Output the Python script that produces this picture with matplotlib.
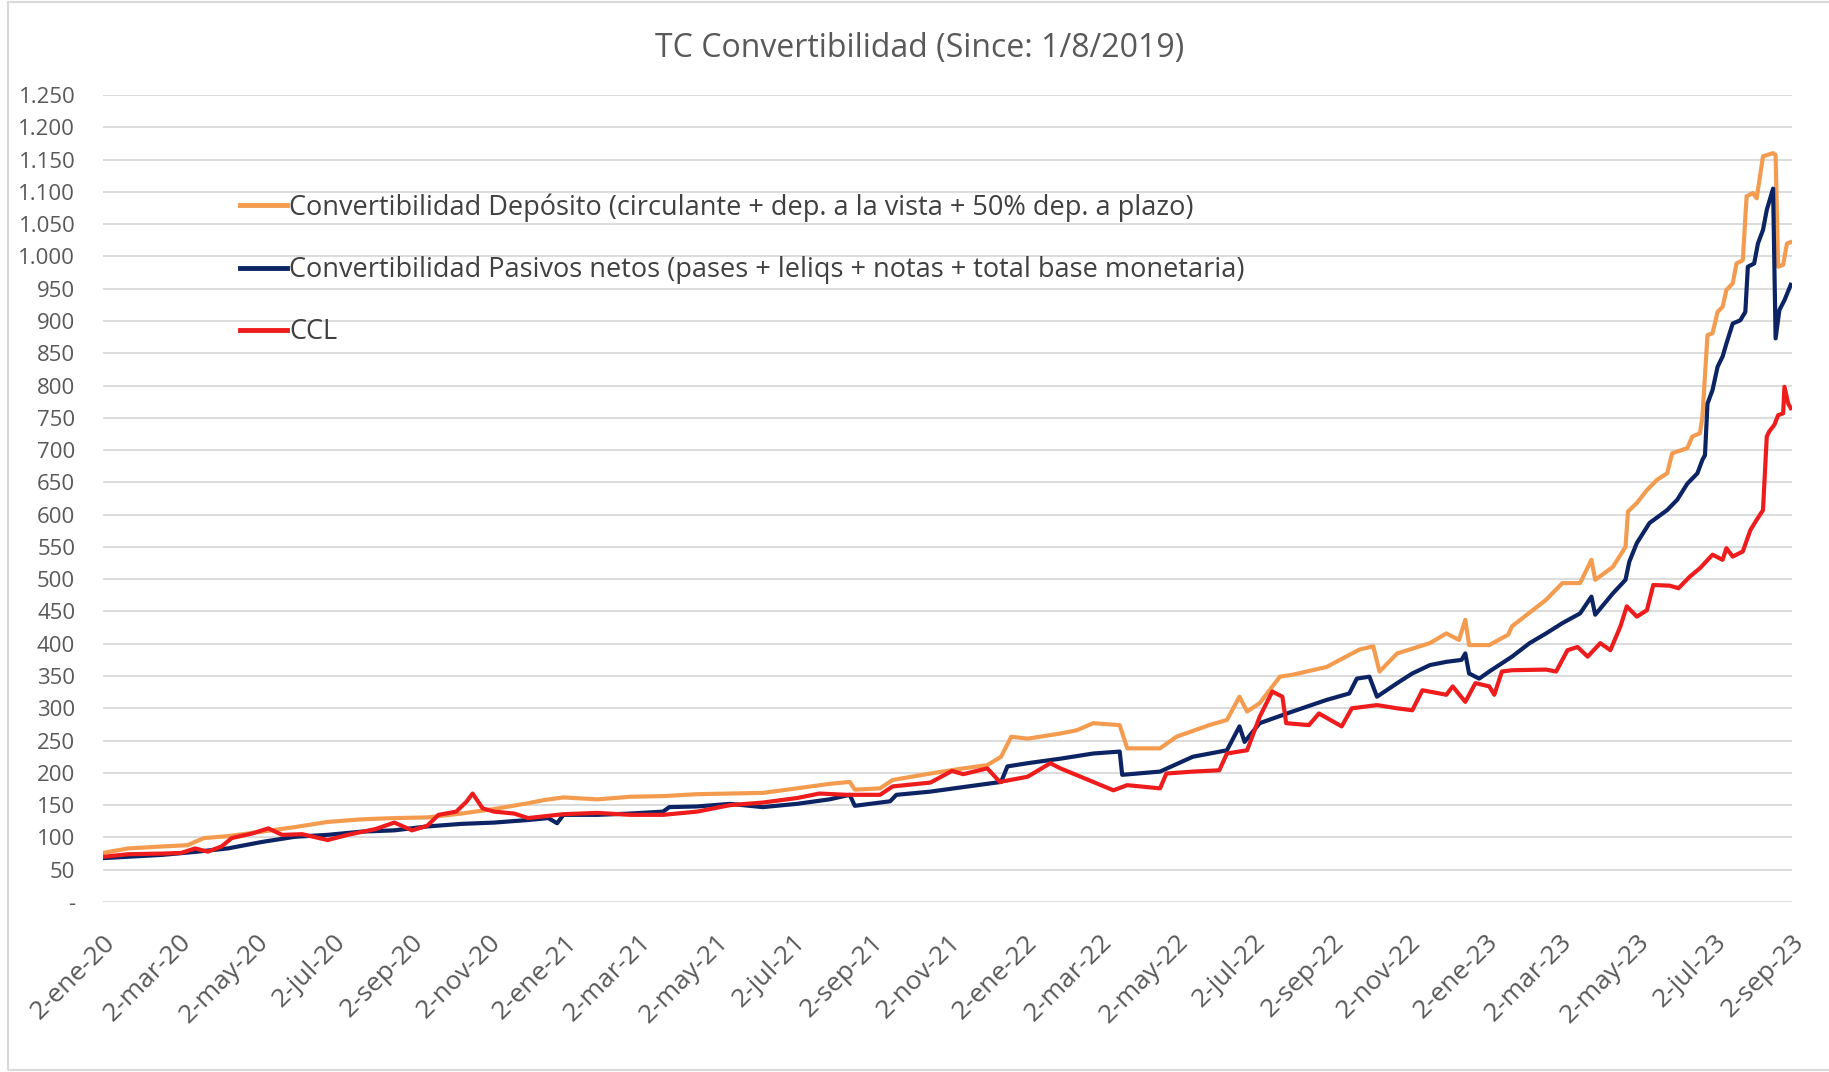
import matplotlib.pyplot as plt
import pandas as pd
from matplotlib.patches import Rectangle

plt.rcParams['font.family'] = ['Open Sans', 'DejaVu Sans']

# --- Data ---
dep_dates = ['2020-01-02', '2020-01-22', '2020-02-18', '2020-03-09', '2020-03-22', '2020-04-10',
             '2020-05-07', '2020-06-02', '2020-06-28', '2020-07-25', '2020-08-20', '2020-09-15',
             '2020-10-12', '2020-11-07', '2020-12-04', '2020-12-17', '2021-01-01', '2021-01-28',
             '2021-02-23', '2021-03-21', '2021-04-17', '2021-05-13', '2021-06-08', '2021-07-05',
             '2021-07-31', '2021-08-16', '2021-08-20', '2021-09-09', '2021-09-19', '2021-10-19',
             '2021-11-14', '2021-12-03', '2021-12-14', '2021-12-22', '2022-01-04', '2022-01-30',
             '2022-02-12', '2022-02-25', '2022-03-18', '2022-03-24', '2022-04-19', '2022-05-02',
             '2022-05-28', '2022-06-11', '2022-06-21', '2022-06-27', '2022-07-07', '2022-07-23',
             '2022-08-02', '2022-08-29', '2022-09-24', '2022-10-05', '2022-10-10', '2022-10-24',
             '2022-11-19', '2022-12-02', '2022-12-12', '2022-12-17', '2022-12-20', '2023-01-05',
             '2023-01-20', '2023-01-23', '2023-02-19', '2023-03-04', '2023-03-18', '2023-03-27',
             '2023-03-30', '2023-04-13', '2023-04-23', '2023-04-25', '2023-05-02', '2023-05-10',
             '2023-05-18', '2023-05-26', '2023-05-30', '2023-06-11', '2023-06-15', '2023-06-21',
             '2023-06-23', '2023-06-27', '2023-07-01', '2023-07-05', '2023-07-09', '2023-07-12',
             '2023-07-17', '2023-07-20', '2023-07-25', '2023-07-28', '2023-08-02', '2023-08-05',
             '2023-08-10', '2023-08-18', '2023-08-20', '2023-08-22', '2023-08-26', '2023-08-29',
             '2023-09-01']
dep_vals = [76, 83, 86, 88, 99, 102, 109, 116, 124, 128, 130, 131,
            137, 144, 153, 158, 162, 159, 163, 164, 167, 168, 169, 176,
            183, 186, 174, 176, 189, 199, 207, 212, 225, 256, 253, 261,
            266, 277, 274, 238, 238, 256, 274, 282, 318, 295, 308, 349,
            352, 364, 391, 396, 357, 385, 401, 416, 406, 437, 398, 398,
            414, 427, 468, 494, 494, 530, 499, 519, 550, 605, 618, 638,
            654, 664, 695, 703, 721, 726, 752, 878, 881, 914, 922, 948,
            958, 989, 994, 1093, 1098, 1090, 1155, 1160, 1157, 984, 987, 1020,
            1022]

pas_dates = ['2020-01-02', '2020-02-18', '2020-03-17', '2020-04-10', '2020-05-07', '2020-06-02',
             '2020-06-28', '2020-07-25', '2020-08-20', '2020-09-15', '2020-10-12', '2020-11-07',
             '2020-12-04', '2020-12-20', '2020-12-27', '2021-01-01', '2021-01-28', '2021-02-23',
             '2021-03-21', '2021-03-26', '2021-04-17', '2021-05-13', '2021-06-08', '2021-07-05',
             '2021-07-31', '2021-08-16', '2021-08-20', '2021-09-17', '2021-09-22', '2021-10-19',
             '2021-11-14', '2021-12-14', '2021-12-19', '2022-01-04', '2022-01-30', '2022-02-25',
             '2022-03-18', '2022-03-20', '2022-04-19', '2022-05-15', '2022-06-11', '2022-06-21',
             '2022-06-25', '2022-07-07', '2022-08-02', '2022-08-29', '2022-09-16', '2022-09-22',
             '2022-10-02', '2022-10-08', '2022-10-24', '2022-11-05', '2022-11-19', '2022-12-02',
             '2022-12-14', '2022-12-17', '2022-12-20', '2022-12-28', '2023-01-05', '2023-01-23',
             '2023-02-06', '2023-02-19', '2023-03-04', '2023-03-18', '2023-03-27', '2023-03-30',
             '2023-04-13', '2023-04-23', '2023-04-26', '2023-05-02', '2023-05-12', '2023-05-26',
             '2023-06-03', '2023-06-11', '2023-06-19', '2023-06-23', '2023-06-25', '2023-06-27',
             '2023-07-01', '2023-07-05', '2023-07-09', '2023-07-12', '2023-07-17', '2023-07-23',
             '2023-07-27', '2023-07-29', '2023-08-03', '2023-08-06', '2023-08-10', '2023-08-13',
             '2023-08-18', '2023-08-20', '2023-08-23', '2023-08-27', '2023-09-01']
pas_vals = [68, 73, 78, 83, 93, 101, 104, 109, 111, 117, 121, 123,
            127, 130, 122, 135, 135, 137, 140, 147, 148, 152, 147, 152,
            159, 166, 149, 156, 166, 171, 178, 186, 210, 215, 222, 230,
            233, 197, 202, 225, 235, 272, 248, 277, 295, 313, 323, 346,
            349, 318, 339, 354, 367, 372, 375, 385, 354, 346, 357, 380,
            401, 416, 432, 447, 473, 445, 478, 499, 527, 556, 587, 607,
            623, 648, 664, 685, 692, 772, 793, 829, 845, 865, 896, 901,
            914, 984, 989, 1020, 1041, 1072, 1105, 873, 917, 932, 956]

ccl_dates = ['2020-01-02', '2020-01-22', '2020-02-18', '2020-03-04', '2020-03-15', '2020-03-25',
             '2020-04-05', '2020-04-13', '2020-04-29', '2020-05-12', '2020-05-23', '2020-06-08',
             '2020-06-28', '2020-07-14', '2020-08-05', '2020-08-20', '2020-09-03', '2020-09-15',
             '2020-09-24', '2020-10-08', '2020-10-16', '2020-10-21', '2020-10-29', '2020-11-07',
             '2020-11-23', '2020-12-04', '2021-01-01', '2021-01-28', '2021-02-23', '2021-03-21',
             '2021-04-17', '2021-05-13', '2021-06-08', '2021-07-05', '2021-07-23', '2021-08-14',
             '2021-09-09', '2021-09-19', '2021-10-19', '2021-11-05', '2021-11-14', '2021-12-03',
             '2021-12-13', '2022-01-04', '2022-01-22', '2022-01-30', '2022-02-25', '2022-03-13',
             '2022-03-24', '2022-04-19', '2022-04-24', '2022-05-15', '2022-06-05', '2022-06-11',
             '2022-06-27', '2022-07-07', '2022-07-17', '2022-07-25', '2022-07-28', '2022-08-15',
             '2022-08-23', '2022-09-10', '2022-09-18', '2022-10-08', '2022-10-24', '2022-11-05',
             '2022-11-13', '2022-12-02', '2022-12-07', '2022-12-17', '2022-12-25', '2023-01-05',
             '2023-01-09', '2023-01-15', '2023-01-23', '2023-02-19', '2023-02-27', '2023-03-08',
             '2023-03-16', '2023-03-24', '2023-04-03', '2023-04-11', '2023-04-19', '2023-04-24',
             '2023-05-02', '2023-05-10', '2023-05-15', '2023-05-28', '2023-06-04', '2023-06-13',
             '2023-06-21', '2023-07-01', '2023-07-09', '2023-07-12', '2023-07-17', '2023-07-25',
             '2023-07-31', '2023-08-05', '2023-08-10', '2023-08-13', '2023-08-15', '2023-08-19',
             '2023-08-22', '2023-08-26', '2023-08-27', '2023-08-30', '2023-09-01']
ccl_vals = [70, 74, 75, 76, 83, 78, 86, 99, 106, 114, 104, 105,
            96, 104, 113, 123, 111, 118, 135, 140, 155, 168, 145, 140,
            137, 130, 136, 138, 135, 135, 140, 150, 154, 161, 168, 166,
            166, 179, 185, 203, 198, 207, 186, 194, 215, 207, 186, 173,
            181, 176, 199, 202, 204, 230, 235, 287, 326, 318, 277, 274,
            292, 272, 300, 305, 300, 297, 328, 321, 334, 310, 339, 334,
            321, 357, 359, 360, 357, 390, 395, 380, 401, 390, 427, 458,
            442, 452, 491, 490, 486, 504, 517, 538, 530, 548, 535, 543,
            576, 592, 607, 721, 729, 739, 754, 757, 798, 772, 765]

series_labels = ['Convertibilidad Depósito (circulante + dep. a la vista + 50% dep. a plazo)',
                 'Convertibilidad Pasivos netos (pases + leliqs + notas + total base monetaria)',
                 'CCL']
series_colors = ['#F39C50', '#0C2463', '#EE1C1C']

x_tick_dates = ['2020-01-02', '2020-03-02', '2020-05-02', '2020-07-02', '2020-09-02', '2020-11-02',
                '2021-01-02', '2021-03-02', '2021-05-02', '2021-07-02', '2021-09-02', '2021-11-02',
                '2022-01-02', '2022-03-02', '2022-05-02', '2022-07-02', '2022-09-02', '2022-11-02',
                '2023-01-02', '2023-03-02', '2023-05-02', '2023-07-02', '2023-09-02']
x_tick_labels = ['2-ene-20', '2-mar-20', '2-may-20', '2-jul-20', '2-sep-20', '2-nov-20',
                 '2-ene-21', '2-mar-21', '2-may-21', '2-jul-21', '2-sep-21', '2-nov-21',
                 '2-ene-22', '2-mar-22', '2-may-22', '2-jul-22', '2-sep-22', '2-nov-22',
                 '2-ene-23', '2-mar-23', '2-may-23', '2-jul-23', '2-sep-23']
y_ticks = list(range(0, 1251, 50))
y_tick_labels = ['-', '50', '100', '150', '200', '250', '300', '350', '400', '450', '500', '550',
                 '600', '650', '700', '750', '800', '850', '900', '950', '1.000', '1.050',
                 '1.100', '1.150', '1.200', '1.250']

# --- Plot ---
fig = plt.figure(figsize=(18.29, 10.72), dpi=100)
ax = fig.add_axes([103 / 1829, 170 / 1072, 1689 / 1829, 807 / 1072])

for dates, vals, lab, col in [(dep_dates, dep_vals, series_labels[0], series_colors[0]),
                              (pas_dates, pas_vals, series_labels[1], series_colors[1]),
                              (ccl_dates, ccl_vals, series_labels[2], series_colors[2])]:
    ax.plot(pd.to_datetime(dates), vals, color=col, lw=3, label=lab, solid_joinstyle='round')

ax.set_xlim(pd.Timestamp('2020-01-02'), pd.Timestamp('2023-09-02'))
ax.set_ylim(0, 1250)
ax.set_yticks(y_ticks)
ax.set_yticklabels(y_tick_labels)
ax.set_xticks(pd.to_datetime(x_tick_dates))
ax.set_xticklabels(x_tick_labels, rotation=45, ha='right', va='top', rotation_mode='anchor')

ax.grid(axis='y', color='#D9D9D9', lw=1.3)
ax.grid(axis='x', visible=False)
ax.set_axisbelow(True)
for s in ax.spines.values():
    s.set_visible(False)
ax.tick_params(length=0, colors='#595959', labelsize=16)
ax.tick_params(axis='x', labelsize=19, pad=20)
ax.tick_params(axis='y', pad=20)

leg = ax.legend(loc='upper left', bbox_to_anchor=(0.081, 0.878), frameon=False,
                fontsize=19.5, handlelength=1.75, handletextpad=0.08, labelspacing=1.26,
                borderpad=0, borderaxespad=0)
for t in leg.get_texts():
    t.set_color('#404040')
for h in leg.get_lines():
    h.set_linewidth(3.5)

fig.text(0.503, 0.955, 'TC Convertibilidad (Since: 1/8/2019)', ha='center', va='center',
         fontsize=23, color='#595959')

fig.patches.append(Rectangle((8 / 1829, 2 / 1072), 1.2, 1068 / 1072, transform=fig.transFigure,
                             fill=False, edgecolor='#D9D9D9', lw=1.5))

fig.savefig('out.png', dpi=100)
